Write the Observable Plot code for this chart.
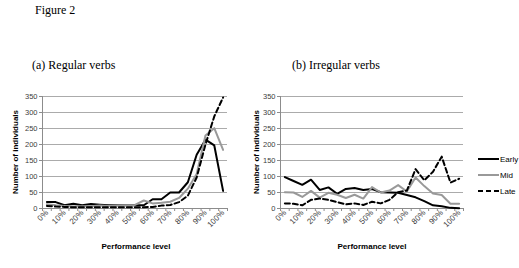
<!DOCTYPE html>
<html>
<head>
<meta charset="utf-8">
<script src="https://cdn.jsdelivr.net/npm/d3@7"></script>
<script src="https://cdn.jsdelivr.net/npm/@observablehq/plot@0.6"></script>
<style>
  body { margin: 0; background: #fff; width: 519px; height: 268px; position: relative; overflow: hidden;
         font-family: "Liberation Sans Narrow", "Liberation Sans", Arial, sans-serif; }
  .serif { position: absolute; font-family: "Liberation Serif", "Times New Roman", serif; font-size: 12px;
           color: #000; white-space: nowrap; line-height: 1; }
  .ytitle { position: absolute; font-weight: bold; font-size: 8px; color: #000; white-space: nowrap;
            transform: translate(-50%, -50%) rotate(-90deg); }
  .xtitle { position: absolute; font-weight: bold; font-size: 8px; color: #000; white-space: nowrap;
            transform: translate(-50%, -50%); }
  .panel { position: absolute; top: 85px; }
  .legend { position: absolute; left: 476px; top: 150px; }
</style>
</head>
<body>
<div class="serif" style="left:35px; top:4px">Figure 2</div>
<div class="serif" style="left:32px; top:59px">(a) Regular verbs</div>
<div class="serif" style="left:292px; top:59px">(b) Irregular verbs</div>

<div id="left" class="panel" style="left:0px"></div>
<div id="right" class="panel" style="left:240px"></div>
<div class="legend" id="legend"></div>

<div class="ytitle" style="left:15px; top:152px">Number of individuals</div>
<div class="ytitle" style="left:256px; top:152px">Number of individuals</div>
<div class="xtitle" style="left:136px; top:246px">Performance level</div>
<div class="xtitle" style="left:372px; top:246px">Performance level</div>

<script>
// Performance-level categories (5% steps); every other one is labelled.
const levels = ["0%", "5%", "10%", "15%", "20%", "25%", "30%", "35%", "40%", "45%", "50%",
                "55%", "60%", "65%", "70%", "75%", "80%", "85%", "90%", "95%", "100%"];
const yTicks = [0, 50, 100, 150, 200, 250, 300, 350];
const seriesNames = ["Early", "Mid", "Late"];

// (a) Regular verbs: number of individuals per performance level
const regularEarly = [20, 20, 10, 15, 10, 14, 12, 10, 10, 10, 10, 10, 29, 29, 50, 50, 82, 168, 215, 197, 55];
const regularMid   = [13, 10, 8, 6, 7, 7, 9, 8, 9, 10, 11, 25, 16, 18, 21, 33, 62, 108, 228, 251, 183];
const regularLate  = [8, 6, 5, 4, 4, 4, 4, 4, 4, 4, 4, 4, 5, 9, 11, 20, 40, 97, 200, 288, 347];

// (b) Irregular verbs
const irregularEarly = [98, 86, 74, 90, 58, 66, 46, 61, 64, 58, 61, 51, 50, 49, 42, 35, 23, 10, 7, 2, 1];
const irregularMid   = [51, 50, 36, 55, 34, 49, 43, 33, 43, 31, 67, 50, 56, 73, 53, 97, 70, 47, 42, 15, 15];
const irregularLate  = [16, 15, 10, 27, 31, 27, 20, 13, 16, 11, 21, 16, 27, 51, 56, 123, 88, 115, 162, 81, 93];

const seriesStyle = {
  Early: { stroke: "#000000", strokeWidth: 2 },
  Mid:   { stroke: "#999999", strokeWidth: 2 },
  Late:  { stroke: "#000000", strokeWidth: 2, strokeDasharray: "5,3" }
};

const labelIdx = d3.range(0, levels.length, 2);
const boundaries = d3.range(levels.length + 1).map(k => k - 0.5);

function panel(values, layout) {
  return Plot.plot({
    width: layout.width,
    height: 183,
    marginTop: 11,
    marginBottom: 60,
    marginLeft: layout.marginLeft,
    marginRight: layout.marginRight,
    x: { type: "linear", domain: [-0.5, levels.length - 0.5] },
    y: { domain: [0, 350] },
    style: { fontFamily: "'Liberation Sans Narrow', 'Liberation Sans', Arial, sans-serif",
             fontSize: "7.5px", color: "#404040", background: "transparent" },
    marks: [
      Plot.gridY(yTicks, { stroke: "#ababab", strokeOpacity: 1 }),
      Plot.axisY(yTicks, { tickSize: 3, tickPadding: 2, label: null, stroke: "#8c8c8c" }),
      Plot.ruleX([-0.5], { stroke: "#8c8c8c" }),
      Plot.ruleY([0], { stroke: "#8c8c8c" }),
      Plot.axisX(boundaries, { tickSize: 3, tickFormat: () => "", label: null, stroke: "#8c8c8c" }),
      Plot.axisX(labelIdx, { tickSize: 0, tickPadding: 3, tickRotate: -45, fontSize: 8,
                             tickFormat: i => levels[i], label: null }),
      ...seriesNames.map((name, s) =>
        Plot.line(values[s], { x: (d, i) => i, y: d => d, ...seriesStyle[name] }))
    ]
  });
}

document.getElementById("left").append(
  panel([regularEarly, regularMid, regularLate], { width: 258, marginLeft: 42, marginRight: 31 }));
document.getElementById("right").append(
  panel([irregularEarly, irregularMid, irregularLate], { width: 279, marginLeft: 40, marginRight: 56 }));

// Legend: line swatch followed by series name
const legend = d3.select("#legend").append("svg").attr("width", 43).attr("height", 50)
  .style("font-family", "'Liberation Sans Narrow', 'Liberation Sans', Arial, sans-serif")
  .style("font-size", "8px");
seriesNames.forEach((name, k) => {
  const g = legend.append("g").attr("transform", `translate(0, ${9 + k * 16})`);
  const st = seriesStyle[name];
  g.append("line").attr("x1", 2).attr("x2", 23).attr("y1", 0).attr("y2", 0)
    .attr("stroke", st.stroke).attr("stroke-width", st.strokeWidth)
    .attr("stroke-dasharray", st.strokeDasharray || null);
  g.append("text").attr("x", 24).attr("y", 0).attr("dy", "0.35em").attr("fill", "#000").text(name);
});
</script>
</body>
</html>
